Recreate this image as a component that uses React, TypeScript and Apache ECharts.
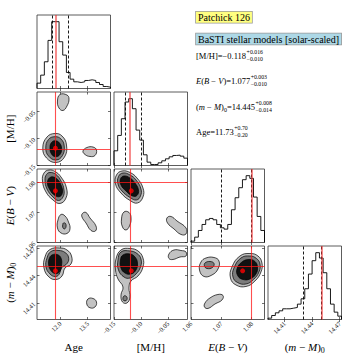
import React, { useEffect, useRef } from 'react';
import * as echarts from 'echarts';

const FONT = "'Liberation Serif', 'DejaVu Serif', serif";

// ---- axes ----
const axisMin = [10.72, -0.15, 1.06, 14.392];
const axisMax = [14.75, -0.014, 1.0842, 14.472];
const ageTicks = [12.0, 13.5];
const mhTicks = [-0.15, -0.1, -0.05];
const ebvTicks = [1.06, 1.07, 1.08];
const dmTicks = [14.41, 14.44, 14.47];
const tickDecimals = [1, 2, 2, 2];

// ---- summary values ----
const truths = [11.73, -0.118, 1.077, 14.445];
const qLow = [11.53, -0.128, 1.067, 14.431];
const qHigh = [12.43, -0.102, 1.08, 14.453];
const statValues = ['11.73', '\u22120.118', '1.077', '14.445'];
const statPlus = ['+0.70', '+0.016', '+0.003', '+0.008'];
const statMinus = ['\u22120.20', '\u22120.010', '\u22120.010', '\u22120.014'];
const statOrder = [1, 2, 3, 0];
const boxTitle = 'Patchick 126';
const boxModels = 'BaSTI stellar models [solar-scaled]';

// ---- 1D histograms (relative heights, 20 bins over axis range) ----
const ageHist = [0.08, 0.2, 0.4, 0.72, 1.0, 1.0, 0.7, 0.5, 0.24, 0.14, 0.1, 0.09, 0.1, 0.12, 0.13, 0.12, 0.09, 0.06, 0.03, 0.02];
const mhHist = [0.22, 0.45, 0.7, 0.95, 1.0, 0.85, 0.53, 0.38, 0.16, 0.05, 0.015, 0.015, 0.04, 0.07, 0.1, 0.13, 0.15, 0.155, 0.14, 0.11];
const ebvHist = [0.02, 0.08, 0.18, 0.27, 0.34, 0.36, 0.34, 0.27, 0.22, 0.2, 0.27, 0.49, 0.67, 0.82, 0.94, 1.0, 0.96, 0.68, 0.39, 0.18];
const dmHist = [0.02, 0.06, 0.1, 0.13, 0.16, 0.16, 0.17, 0.18, 0.23, 0.31, 0.46, 0.68, 0.88, 1.0, 0.92, 0.7, 0.46, 0.23, 0.11, 0.05];
const histLists = [ageHist, mhHist, ebvHist, dmHist];
const tickLists = [ageTicks, mhTicks, ebvTicks, dmTicks];

// ---- 2D contours (data coordinates) ----
type Contour = { level: number; pts: number[][] };
const contoursAgeMH: Contour[] = [
  { level: 0, pts: [[11.706, -0.0908], [12.09, -0.0954], [12.337, -0.1121], [12.227, -0.1343], [11.761, -0.1444], [11.241, -0.1361], [11.038, -0.1176], [11.268, -0.0973]] },
  { level: 1, pts: [[11.706, -0.0967], [12.035, -0.101], [12.211, -0.1139], [12.117, -0.1315], [11.761, -0.1398], [11.35, -0.1324], [11.202, -0.1176], [11.35, -0.1019]] },
  { level: 2, pts: [[11.734, -0.1043], [11.953, -0.1084], [12.068, -0.1185], [11.98, -0.1296], [11.734, -0.1337], [11.515, -0.1287], [11.432, -0.1176], [11.515, -0.1074]] },
  { level: 0, pts: [[11.98, -0.0186], [12.364, -0.0196], [12.474, -0.027], [12.364, -0.0399], [12.145, -0.0482], [11.926, -0.0436], [11.843, -0.0307]] },
  { level: 0, pts: [[13.241, -0.1232], [13.46, -0.1167], [13.789, -0.1158], [13.981, -0.1213], [13.898, -0.1315], [13.624, -0.1333], [13.35, -0.1296]] },
];
const contoursAgeEBV: Contour[] = [
  { level: 0, pts: [[11.378, 1.08387], [11.706, 1.08338], [12.035, 1.08157], [12.337, 1.07795], [12.309, 1.07466], [11.98, 1.07285], [11.597, 1.074], [11.213, 1.07663], [11.021, 1.08025], [11.104, 1.08288]] },
  { level: 1, pts: [[11.432, 1.08305], [11.761, 1.08239], [12.035, 1.08025], [12.2, 1.07729], [12.145, 1.07499], [11.898, 1.07384], [11.597, 1.07499], [11.268, 1.07762], [11.158, 1.08058], [11.241, 1.08239]] },
  { level: 2, pts: [[11.487, 1.08157], [11.816, 1.08091], [12.035, 1.07894], [12.117, 1.07663], [11.98, 1.07515], [11.706, 1.07548], [11.432, 1.07729], [11.295, 1.07992]] },
  { level: 0, pts: [[12.035, 1.06923], [12.254, 1.06874], [12.446, 1.06676], [12.528, 1.06446], [12.364, 1.06298], [12.035, 1.06314], [11.843, 1.06479], [11.871, 1.06742]] },
  { level: 1, pts: [[12.172, 1.06643], [12.282, 1.06627], [12.309, 1.06512], [12.227, 1.06446], [12.134, 1.06495], [12.134, 1.06594]] },
  { level: 0, pts: [[13.213, 1.06956], [13.405, 1.06989], [13.624, 1.06808], [13.953, 1.06545], [13.926, 1.0638], [13.679, 1.06397], [13.405, 1.06643], [13.186, 1.06841]] },
];
const contoursAgeDM: Contour[] = [
  { level: 0, pts: [[11.432, 14.46819], [11.98, 14.46982], [12.364, 14.46765], [12.611, 14.46112], [12.583, 14.45242], [12.254, 14.44806], [12.09, 14.43936], [11.761, 14.43555], [11.378, 14.43827], [11.104, 14.44806], [11.158, 14.46003]] },
  { level: 1, pts: [[11.487, 14.46602], [11.926, 14.4671], [12.254, 14.46493], [12.446, 14.46003], [12.391, 14.4535], [12.063, 14.44806], [11.926, 14.44099], [11.706, 14.43882], [11.432, 14.44154], [11.213, 14.44915], [11.268, 14.45894]] },
  { level: 2, pts: [[11.542, 14.46221], [11.816, 14.46275], [12.035, 14.45894], [12.063, 14.45024], [11.953, 14.44371], [11.706, 14.44208], [11.46, 14.44589], [11.35, 14.4535], [11.405, 14.45894]] },
  { level: 0, pts: [[13.515, 14.41434], [13.789, 14.41488], [13.981, 14.41107], [13.898, 14.40563], [13.624, 14.40476], [13.449, 14.4089]] },
];
const contoursMHEBV: Contour[] = [
  { level: 0, pts: [[-0.1352, 1.08354], [-0.1204, 1.08305], [-0.1075, 1.08124], [-0.0964, 1.07795], [-0.0964, 1.07499], [-0.1066, 1.07301], [-0.1204, 1.07384], [-0.1371, 1.0763], [-0.1472, 1.07927], [-0.1454, 1.08223]] },
  { level: 1, pts: [[-0.1334, 1.08288], [-0.1204, 1.08223], [-0.1093, 1.08058], [-0.1001, 1.07762], [-0.101, 1.07532], [-0.1084, 1.074], [-0.1204, 1.07482], [-0.1352, 1.07696], [-0.1426, 1.07927], [-0.1417, 1.08173]] },
  { level: 2, pts: [[-0.1315, 1.0819], [-0.1204, 1.08124], [-0.1112, 1.07959], [-0.1047, 1.07729], [-0.1075, 1.07548], [-0.1158, 1.07532], [-0.1278, 1.07696], [-0.1371, 1.07894], [-0.138, 1.08091]] },
  { level: 0, pts: [[-0.1315, 1.07005], [-0.1223, 1.06989], [-0.1185, 1.06808], [-0.1213, 1.06545], [-0.1278, 1.06413], [-0.1343, 1.06512], [-0.1361, 1.06775]] },
  { level: 0, pts: [[-0.052, 1.06808], [-0.0446, 1.06857], [-0.0335, 1.06709], [-0.0168, 1.06479], [-0.0168, 1.06281], [-0.0261, 1.06265], [-0.039, 1.06446], [-0.051, 1.06643]] },
];
const contoursMHDM: Contour[] = [
  { level: 0, pts: [[-0.1371, 14.46765], [-0.1204, 14.46928], [-0.1056, 14.46656], [-0.0964, 14.45894], [-0.0964, 14.44915], [-0.1056, 14.43936], [-0.1185, 14.43392], [-0.1223, 14.4263], [-0.1204, 14.41651], [-0.126, 14.40998], [-0.1343, 14.41107], [-0.1371, 14.41869], [-0.1334, 14.42739], [-0.1426, 14.4361], [-0.1472, 14.44589], [-0.1463, 14.45786]] },
  { level: 1, pts: [[-0.1371, 14.46547], [-0.1204, 14.46656], [-0.1075, 14.46384], [-0.1001, 14.45786], [-0.101, 14.44915], [-0.1093, 14.44154], [-0.1204, 14.43718], [-0.1315, 14.43827], [-0.1417, 14.44589], [-0.1426, 14.45677]] },
  { level: 2, pts: [[-0.1334, 14.46221], [-0.1204, 14.4633], [-0.1112, 14.46003], [-0.1066, 14.4535], [-0.1093, 14.44589], [-0.1185, 14.44154], [-0.1297, 14.44262], [-0.1371, 14.44806], [-0.138, 14.45677]] },
  { level: 1, pts: [[-0.1315, 14.4176], [-0.1269, 14.41706], [-0.126, 14.41379], [-0.1297, 14.41216], [-0.1334, 14.41379]] },
  { level: 0, pts: [[-0.0483, 14.4633], [-0.039, 14.46765], [-0.0261, 14.4671], [-0.0168, 14.46547], [-0.0168, 14.46112], [-0.0279, 14.46003], [-0.0409, 14.45731], [-0.0483, 14.4584]] },
];
const contoursEBVDM: Contour[] = [
  { level: 0, pts: [[1.07612, 14.46112], [1.07941, 14.46384], [1.08204, 14.46112], [1.08336, 14.4535], [1.08303, 14.44371], [1.08106, 14.43392], [1.0781, 14.42794], [1.07481, 14.42957], [1.073, 14.43718], [1.07349, 14.44915]] },
  { level: 1, pts: [[1.07645, 14.45894], [1.07941, 14.46112], [1.08155, 14.4584], [1.0827, 14.45242], [1.08237, 14.44371], [1.08056, 14.43555], [1.0781, 14.43066], [1.0753, 14.43229], [1.07382, 14.43827], [1.07415, 14.44806]] },
  { level: 2, pts: [[1.07678, 14.45459], [1.07908, 14.45731], [1.08106, 14.45514], [1.08188, 14.44915], [1.08139, 14.44154], [1.07941, 14.4361], [1.07711, 14.43555], [1.07546, 14.43936], [1.07513, 14.44698]] },
  { level: 0, pts: [[1.06329, 14.45459], [1.06494, 14.45894], [1.06757, 14.45949], [1.06921, 14.45568], [1.06888, 14.44698], [1.06691, 14.44046], [1.06428, 14.43882], [1.0628, 14.44589]] },
  { level: 1, pts: [[1.06461, 14.4535], [1.06625, 14.45514], [1.06757, 14.45296], [1.06707, 14.44861], [1.06526, 14.44752], [1.06444, 14.45024]] },
  { level: 0, pts: [[1.06461, 14.40998], [1.06625, 14.41542], [1.06888, 14.41923], [1.07053, 14.41814], [1.0702, 14.41325], [1.0679, 14.4089], [1.06559, 14.404], [1.06444, 14.40563]] },
];
const panelContours: { [key: string]: Contour[] } = {
  '1-0': contoursAgeMH,
  '2-0': contoursAgeEBV,
  '3-0': contoursAgeDM,
  '2-1': contoursMHEBV,
  '3-1': contoursMHDM,
  '3-2': contoursEBVDM,
};

// ---- layout / style ----
const L0 = 37;
const T0 = 15;
const STEP = 77;
const SIZE = 73.5;
const levelFill = ['#c2c2c2', '#7c7c7c', '#111111'];

type Frag = [string, string];
const labelFrags: Frag[][] = [
  [['Age', 'r']],
  [['[M/H]', 'r']],
  [['E', 'i'], ['(', 'r'], ['B', 'i'], [' \u2212 ', 'r'], ['V', 'i'], [')', 'r']],
  [['(', 'r'], ['m', 'i'], [' \u2212 ', 'r'], ['M', 'i'], [')', 'r'], ['0', 's']],
];

const fmt = (v: number, d: number) => v.toFixed(d).replace('-', '\u2212');

function histPoints(k: number) {
  const h = histLists[k];
  const n = h.length;
  const lo = axisMin[k];
  const w = (axisMax[k] - lo) / n;
  const pts: number[][] = [[lo, 0]];
  for (let b = 0; b < n; b++) {
    pts.push([lo + b * w, h[b]]);
    pts.push([lo + (b + 1) * w, h[b]]);
  }
  pts.push([axisMax[k], 0]);
  return pts;
}

function richStyles(size: number) {
  return {
    r: { fontFamily: FONT, fontSize: size, fontWeight: 'normal', lineHeight: size + 4, fill: '#000', color: '#000' },
    i: { fontFamily: FONT, fontSize: size, fontWeight: 'normal', fontStyle: 'italic', lineHeight: size + 4, fill: '#000', color: '#000' },
    s: { fontFamily: FONT, fontSize: Math.round(size * 0.7), fontWeight: 'normal', lineHeight: Math.round(size * 0.7) + 1, verticalAlign: 'bottom', fill: '#000', color: '#000' },
  };
}
const richText = (frags: Frag[]) => frags.map(([t, k]) => `{${k}|${t}}`).join('');

let measureCtx: CanvasRenderingContext2D | null = null;
function fragWidth(frags: Frag[], size: number) {
  if (!measureCtx) measureCtx = document.createElement('canvas').getContext('2d');
  let w = 0;
  for (const [t, k] of frags) {
    const fs = k === 's' ? Math.round(size * 0.7) : size;
    measureCtx!.font = `${k === 'i' ? 'italic ' : ''}${fs}px ${FONT}`;
    w += measureCtx!.measureText(t).width;
  }
  return w;
}

function buildOption() {
  const grid: any[] = [];
  const xAxis: any[] = [];
  const yAxis: any[] = [];
  const series: any[] = [];
  const tick = { show: true, inside: true, length: 2.5, lineStyle: { color: '#111', width: 0.6 } };
  let g = 0;
  for (let r = 0; r < 4; r++) {
    for (let c = 0; c <= r; c++) {
      grid.push({
        left: L0 + STEP * c, top: T0 + STEP * r, width: SIZE, height: SIZE,
        show: true, borderColor: '#333', borderWidth: 0.8, backgroundColor: 'transparent',
      });
      const xLabel = {
        show: r === 3, customValues: tickLists[c], rotate: 45, fontSize: 6.5, fontFamily: FONT, color: '#111', margin: 3,
        formatter: (v: number) => fmt(v, tickDecimals[c]),
      };
      xAxis.push({
        type: 'value', gridIndex: g, position: 'bottom', min: axisMin[c], max: axisMax[c],
        axisLine: { show: false }, splitLine: { show: false },
        axisTick: { ...tick, customValues: tickLists[c] }, axisLabel: xLabel,
      });
      xAxis.push({
        type: 'value', gridIndex: g, position: 'top', min: axisMin[c], max: axisMax[c],
        axisLine: { show: false }, splitLine: { show: false },
        axisTick: { ...tick, customValues: tickLists[c] }, axisLabel: { show: false },
      });
      if (r === c) {
        yAxis.push({ type: 'value', gridIndex: g, min: 0, max: 1.1, show: false });
        yAxis.push({ type: 'value', gridIndex: g, min: 0, max: 1.1, show: false, position: 'right' });
        series.push({
          type: 'line', xAxisIndex: 2 * g, yAxisIndex: 2 * g, data: histPoints(r), symbol: 'none', silent: true,
          lineStyle: { color: '#000', width: 0.9 },
          markLine: {
            symbol: ['none', 'none'], silent: true, label: { show: false },
            data: [
              { xAxis: qLow[r], lineStyle: { type: [3, 2], color: '#000', width: 0.9 } },
              { xAxis: qHigh[r], lineStyle: { type: [3, 2], color: '#000', width: 0.9 } },
              { xAxis: truths[r], lineStyle: { type: 'solid', color: 'rgba(240,50,50,0.7)', width: 1.6 } },
            ],
          },
        });
      } else {
        yAxis.push({
          type: 'value', gridIndex: g, position: 'left', min: axisMin[r], max: axisMax[r],
          axisLine: { show: false }, splitLine: { show: false },
          axisTick: { ...tick, customValues: tickLists[r] },
          axisLabel: {
            show: c === 0, customValues: tickLists[r], rotate: 45, fontSize: 6.5, fontFamily: FONT, color: '#111', margin: 3,
            formatter: (v: number) => fmt(v, tickDecimals[r]),
          },
        });
        yAxis.push({
          type: 'value', gridIndex: g, position: 'right', min: axisMin[r], max: axisMax[r],
          axisLine: { show: false }, splitLine: { show: false },
          axisTick: { ...tick, customValues: tickLists[r] }, axisLabel: { show: false },
        });
        const cons = [...panelContours[`${r}-${c}`]].sort((a, b) => a.level - b.level);
        series.push({
          type: 'custom', coordinateSystem: 'cartesian2d', xAxisIndex: 2 * g, yAxisIndex: 2 * g, silent: true,
          data: cons.map((cn, idx) => [cn.pts[0][0], cn.pts[0][1], idx]),
          renderItem: (params: any, api: any) => {
            const cn = cons[api.value(2)];
            const points = cn.pts.map((p) => api.coord(p));
            return {
              type: 'polygon',
              shape: { points, smooth: 0.45 },
              style: { fill: levelFill[cn.level], stroke: '#000', lineWidth: 0.7 },
            };
          },
        });
        series.push({
          type: 'scatter', xAxisIndex: 2 * g, yAxisIndex: 2 * g, silent: true, z: 5,
          data: [[truths[c], truths[r]]], symbol: 'circle', symbolSize: 5, itemStyle: { color: '#ff0000' },
          markLine: {
            symbol: ['none', 'none'], silent: true, label: { show: false },
            lineStyle: { type: 'solid', color: 'rgba(255,20,20,0.75)', width: 1.1 },
            data: [{ xAxis: truths[c] }, { yAxis: truths[r] }],
          },
        });
      }
      g++;
    }
  }

  const graphic: any[] = [];
  const LABEL_SIZE = 11;
  for (let r = 1; r < 4; r++) {
    graphic.push({
      type: 'text', x: 9.5, y: T0 + STEP * r + SIZE / 2, rotation: Math.PI / 2, silent: true,
      style: { text: richText(labelFrags[r]), rich: richStyles(LABEL_SIZE), fontWeight: 'normal', align: 'center', verticalAlign: 'middle' },
    });
  }
  for (let c = 0; c < 4; c++) {
    graphic.push({
      type: 'text', x: L0 + STEP * c + SIZE / 2, y: 347, silent: true,
      style: { text: richText(labelFrags[c]), rich: richStyles(LABEL_SIZE), fontWeight: 'normal', align: 'center', verticalAlign: 'middle' },
    });
  }
  // boxes
  graphic.push({
    type: 'text', x: 196, y: 17.2, silent: true,
    style: {
      text: boxTitle, font: `10px ${FONT}`, fill: '#000', align: 'left', verticalAlign: 'middle',
      backgroundColor: '#ffff80', borderColor: '#999', borderWidth: 0.8, padding: [1, 2, 0, 2],
    },
  });
  graphic.push({
    type: 'text', x: 196, y: 39, silent: true,
    style: {
      text: boxModels, font: `10px ${FONT}`, fill: '#000', align: 'left', verticalAlign: 'middle',
      backgroundColor: '#add8e6', borderColor: '#999', borderWidth: 0.8, padding: [1, 2, 0, 2],
    },
  });
  // statistics
  const STAT_SIZE = 8.5;
  const statY = [55.5, 80.5, 106.5, 131.5];
  statOrder.forEach((k, i) => {
    const frags: Frag[] = [...labelFrags[k], ['=' + statValues[k], 'r']];
    const w = fragWidth(frags, STAT_SIZE);
    graphic.push({
      type: 'text', x: 196, y: statY[i], silent: true,
      style: { text: richText(frags), rich: richStyles(STAT_SIZE), fontWeight: 'normal', align: 'left', verticalAlign: 'middle' },
    });
    graphic.push({
      type: 'text', x: 196 + w + 0.5, y: statY[i] - 3.2, silent: true,
      style: { text: statPlus[k], font: `5.8px ${FONT}`, fill: '#000', align: 'left', verticalAlign: 'middle' },
    });
    graphic.push({
      type: 'text', x: 196 + w + 0.5, y: statY[i] + 3.2, silent: true,
      style: { text: statMinus[k], font: `5.8px ${FONT}`, fill: '#000', align: 'left', verticalAlign: 'middle' },
    });
  });

  return { animation: false, backgroundColor: '#fff', grid, xAxis, yAxis, series, graphic };
}

export default function App() {
  const ref = useRef<HTMLDivElement>(null);
  useEffect(() => {
    const chart = echarts.init(ref.current!, null, { renderer: 'svg' });
    chart.setOption(buildOption() as any);
    return () => chart.dispose();
  }, []);
  return <div ref={ref} style={{ position: 'fixed', left: 0, top: 0, width: 357, height: 357, background: '#fff' }} />;
}
